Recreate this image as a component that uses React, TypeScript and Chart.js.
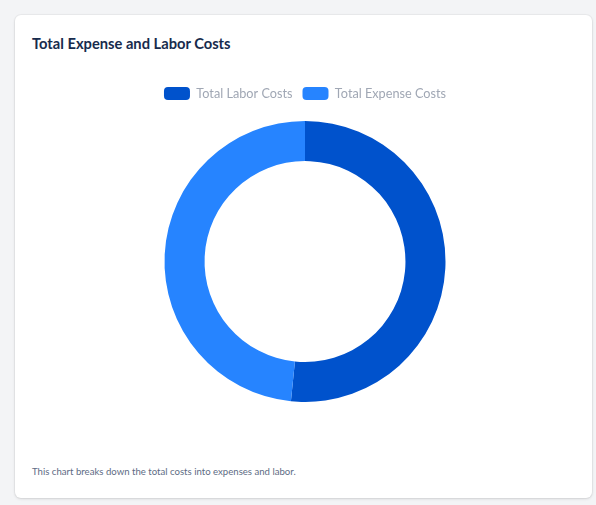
import React, { useEffect, useRef } from "react";
import { Chart, registerables } from "chart.js";

Chart.register(...registerables);

const categories = ["Total Labor Costs", "Total Expense Costs"];
const costValues = [51.6, 48.4];
const sliceColors = ["#0052CC", "#2684FF"];

const FONT = "Lato, 'Noto Sans', sans-serif";

export default function App() {
  const ref = useRef<HTMLCanvasElement | null>(null);

  useEffect(() => {
    if (!ref.current) return;
    const extraLegendSpace = {
      id: "extraLegendSpace",
      beforeInit(chart: any) {
        const legend = chart.legend;
        if (!legend) return;
        const orig = legend.fit;
        legend.fit = function () {
          orig.call(this);
          this.height += 11;
        };
      },
    };
    const chart = new Chart(ref.current, {
      type: "doughnut",
      data: {
        labels: categories,
        datasets: [
          {
            data: costValues,
            backgroundColor: sliceColors,
            borderWidth: 0,
            hoverOffset: 0,
          },
        ],
      },
      options: {
        animation: false,
        responsive: true,
        maintainAspectRatio: false,
        cutout: "71.5%",
        layout: { padding: 0 },
        plugins: {
          legend: {
            position: "top",
            labels: {
              boxWidth: 26,
              boxHeight: 13,
              useBorderRadius: true,
              borderRadius: 4,
              color: "#A0A7B4",
              font: { family: FONT, size: 12.7 },
              padding: 10,
            },
          },
          tooltip: { enabled: false },
        },
      },
      plugins: [extraLegendSpace],
    });
    return () => chart.destroy();
  }, []);

  return (
    <div
      style={{
        position: "fixed",
        inset: 0,
        background: "#F3F4F6",
        fontFamily: FONT,
      }}
    >
      <div
        style={{
          position: "absolute",
          left: 15,
          top: 15,
          width: 577,
          height: 483,
          background: "#FFFFFF",
          borderRadius: 6,
          boxShadow: "0 1px 3px rgba(0,0,0,0.12), 0 0 0 1px rgba(0,0,0,0.03)",
        }}
      >
        <div
          style={{
            position: "absolute",
            left: 17,
            top: 19,
            fontSize: 14.7,
            fontWeight: 700,
            color: "#172B4D",
            whiteSpace: "nowrap",
          }}
        >
          Total Expense and Labor Costs
        </div>
        <div
          style={{
            position: "absolute",
            left: 17,
            top: 62,
            width: 546,
            height: 325,
          }}
        >
          <canvas ref={ref} />
        </div>
        <div
          style={{
            position: "absolute",
            left: 17,
            top: 451,
            fontSize: 9.6,
            color: "#5E6C84",
            whiteSpace: "nowrap",
          }}
        >
          This chart breaks down the total costs into expenses and labor.
        </div>
      </div>
    </div>
  );
}
